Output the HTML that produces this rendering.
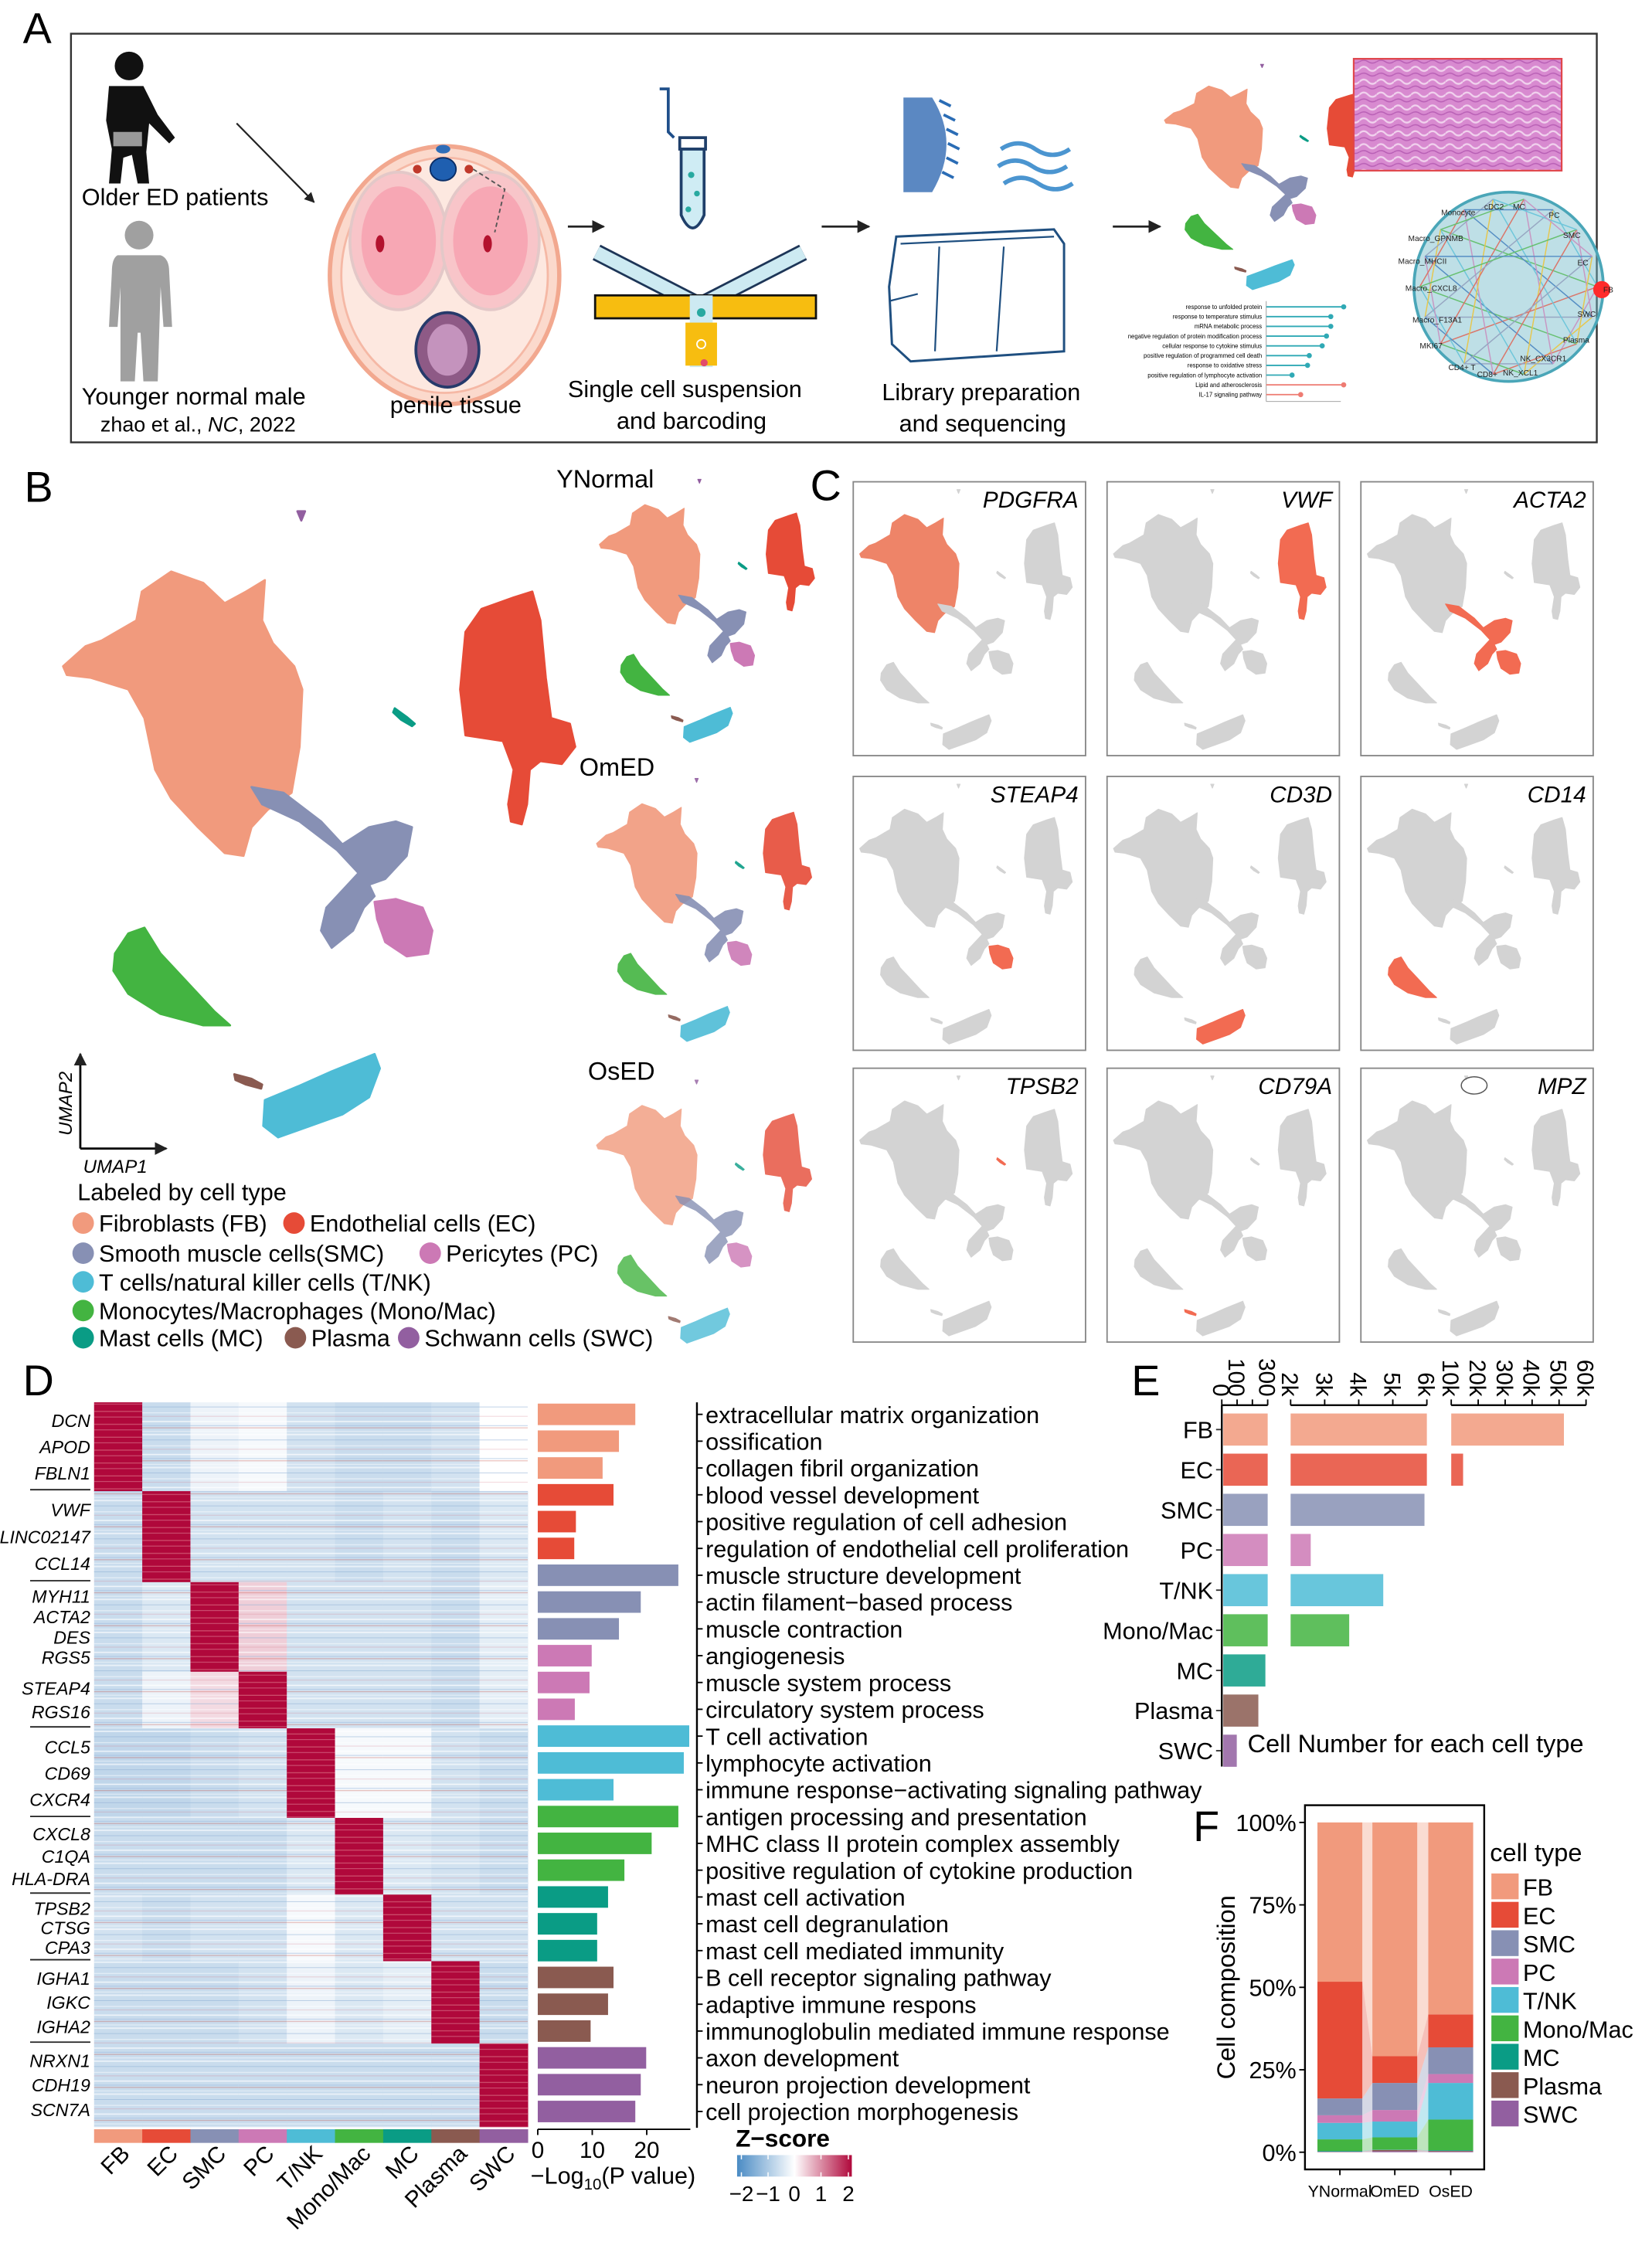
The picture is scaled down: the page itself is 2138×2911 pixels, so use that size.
<!DOCTYPE html>
<html><head><meta charset="utf-8">
<style>
html,body{margin:0;padding:0;background:#fff;}
svg{display:block;font-family:"Liberation Sans",Arial,sans-serif;}
</style></head>
<body>
<svg id="fig" xmlns="http://www.w3.org/2000/svg" width="2138" height="2911" viewBox="0 0 1152 1568.5" preserveAspectRatio="none">
<defs>
  <pattern id="stripes" width="37" height="23" patternUnits="userSpaceOnUse">
    <rect x="0" y="2" width="37" height="0.8" fill="#ffffff" opacity="0.75"/>
    <rect x="0" y="5" width="37" height="0.5" fill="#9dbbe0" opacity="0.7"/>
    <rect x="0" y="6.5" width="37" height="0.6" fill="#c0392b" opacity="0.35"/>
    <rect x="0" y="9" width="37" height="0.5" fill="#ffffff" opacity="0.6"/>
    <rect x="0" y="11" width="37" height="1" fill="#ffffff" opacity="0.6"/>
    <rect x="0" y="15" width="37" height="0.5" fill="#8fb0d6" opacity="0.6"/>
    <rect x="0" y="19" width="37" height="0.7" fill="#ffffff" opacity="0.5"/>
    <rect x="0" y="21.5" width="37" height="0.5" fill="#d46a7a" opacity="0.3"/>
  </pattern>
  <pattern id="redstripes" width="37" height="9" patternUnits="userSpaceOnUse">
    <rect x="0" y="3" width="37" height="0.7" fill="#e07a8a" opacity="0.6"/>
    <rect x="0" y="7" width="37" height="0.5" fill="#f3b3bd" opacity="0.5"/>
  </pattern>
  <pattern id="he" width="12" height="9" patternUnits="userSpaceOnUse">
    <rect width="12" height="9" fill="#d88ad0"/>
    <path d="M0 3 Q3 0 6 3 T12 3" stroke="#f1d2ee" stroke-width="1.2" fill="none"/>
    <path d="M0 7 Q3 5 6 7 T12 7" stroke="#b85fb5" stroke-width="0.8" fill="none"/>
  </pattern>
  <linearGradient id="zgrad" x1="0" x2="1" y1="0" y2="0">
    <stop offset="0" stop-color="#4a8bc4"/>
    <stop offset="0.5" stop-color="#ffffff"/>
    <stop offset="1" stop-color="#b0083b"/>
  </linearGradient>
  <marker id="arr" viewBox="0 0 10 10" refX="9" refY="5" markerWidth="6" markerHeight="6" orient="auto"><path d="M0 0 L10 5 L0 10 z" fill="#222"/></marker>
</defs>

<!-- ================= PANEL A ================= -->
<g id="panelA">
  <text x="16" y="30" font-size="30">A</text>
  <rect x="49.5" y="23.5" width="1064" height="285" fill="none" stroke="#333" stroke-width="1.3"/>
  <g fill="#111">
    <circle cx="90" cy="46" r="10"/>
    <path d="M76 60 L100 60 L110 80 L122 96 L118 100 L104 86 L102 106 L104 128 L96 128 L92 108 L86 110 L84 128 L76 128 L78 104 L74 84 Z"/>
    <rect x="79" y="92" width="20" height="10" fill="#999"/>
  </g>
  <text x="57" y="143" font-size="16.5">Older ED patients</text>
  <g fill="#a0a0a0">
    <circle cx="97" cy="164" r="10"/>
    <path d="M82 178 L112 178 Q118 180 118 190 L120 228 L114 228 L112 200 L110 266 L100 266 L98 232 L96 232 L94 266 L84 266 L84 200 L82 228 L76 228 L78 190 Q78 180 82 178 Z"/>
  </g>
  <text x="57" y="282" font-size="16.5">Younger normal male</text>
  <text x="70" y="301" font-size="14.5">zhao et al., <tspan font-style="italic">NC</tspan>, 2022</text>
  <line x1="165" y1="86" x2="219" y2="141" stroke="#222" stroke-width="1.2" marker-end="url(#arr)"/>
  <g>
    <ellipse cx="310" cy="192" rx="80" ry="90" fill="#fbd9cc" stroke="#f2a88f" stroke-width="3"/>
    <ellipse cx="310" cy="192" rx="72" ry="82" fill="#fde8e0" stroke="#f5b8a5" stroke-width="1.5"/>
    <ellipse cx="278" cy="168" rx="34" ry="48" fill="#f8c5c9" stroke="#e3c8c8" stroke-width="2"/>
    <ellipse cx="342" cy="168" rx="34" ry="48" fill="#f8c5c9" stroke="#e3c8c8" stroke-width="2"/>
    <ellipse cx="278" cy="168" rx="26" ry="38" fill="#f58ea3" opacity="0.55"/>
    <ellipse cx="342" cy="168" rx="26" ry="38" fill="#f58ea3" opacity="0.55"/>
    <ellipse cx="265" cy="170" rx="3" ry="6" fill="#b3122e"/>
    <ellipse cx="340" cy="170" rx="3" ry="6" fill="#b3122e"/>
    <ellipse cx="312" cy="244" rx="22" ry="26" fill="#8e5a86" stroke="#263a6b" stroke-width="2"/>
    <ellipse cx="312" cy="244" rx="14" ry="18" fill="#c493bd"/>
    <ellipse cx="309" cy="118" rx="9" ry="8" fill="#1f5fb0" stroke="#0a2d66"/>
    <ellipse cx="309" cy="104" rx="5" ry="3" fill="#2f6db8"/>
    <circle cx="291" cy="118" r="3" fill="#c0392b"/><circle cx="327" cy="118" r="3" fill="#c0392b"/>
    <path d="M330 118 L352 132 L345 162" stroke="#555" stroke-dasharray="3 2" fill="none"/>
  </g>
  <text x="272" y="288" font-size="16.5">penile tissue</text>
  <line x1="396" y1="158" x2="421" y2="158" stroke="#222" stroke-width="1.5" marker-end="url(#arr)"/>
  <g>
    <path d="M460 62 L466 62 L466 92 L470 96" stroke="#1f4f8a" stroke-width="2" fill="none"/>
    <rect x="474" y="96" width="18" height="8" fill="#fff" stroke="#1f3f6a" stroke-width="2"/>
    <path d="M475 104 L475 150 Q483 168 491 150 L491 104 Z" fill="#cfecf4" stroke="#1f3f6a" stroke-width="2"/>
    <circle cx="482" cy="122" r="2.2" fill="#28a9a0"/><circle cx="486" cy="135" r="2" fill="#28a9a0"/><circle cx="480" cy="146" r="2" fill="#28a9a0"/>
    <path d="M416 176 L488 213 L560 176" stroke="#1d3557" stroke-width="12" fill="none"/>
    <path d="M416 176 L488 213 L560 176" stroke="#cdeaf2" stroke-width="9" fill="none"/>
    <rect x="415" y="206" width="154" height="16" fill="#f7bd10" stroke="#111" stroke-width="1.5"/>
    <rect x="481" y="206" width="16" height="50" fill="#cdeaf2"/>
    <rect x="478" y="225" width="22" height="30" fill="#f7bd10"/>
    <circle cx="489" cy="218" r="3" fill="#28a9a0"/><circle cx="489" cy="240" r="3" fill="#f7bd10" stroke="#fff"/><circle cx="491" cy="253" r="2.5" fill="#e24a6a"/>
  </g>
  <text x="396" y="277" font-size="16.5">Single cell suspension</text>
  <text x="430" y="299" font-size="16.5">and barcoding</text>
  <line x1="573" y1="158" x2="606" y2="158" stroke="#222" stroke-width="1.5" marker-end="url(#arr)"/>
  <g>
    <path d="M630 68 L650 68 Q670 100 650 134 L630 134 Z" fill="#5b88c2"/>
    <path d="M655 70 l8 4 M658 80 l8 4 M660 90 l8 4 M661 100 l8 4 M660 110 l8 4 M657 120 l8 4" stroke="#2a6cb5" stroke-width="2"/>
    <path d="M698 104 q12 -8 24 0 t24 0 M696 116 q12 -8 24 0 t24 0 M700 128 q12 -8 24 0 t24 0" stroke="#4b95d0" stroke-width="3" fill="none"/>
    <path d="M625 165 L735 160 L742 170 L742 245 L635 252 L622 240 L620 200 Z" fill="#fff" stroke="#1f4f80" stroke-width="1.6"/>
    <path d="M628 170 L735 165 M655 172 L652 245 M700 172 L695 245 M620 210 L640 205" stroke="#1f4f80" stroke-width="1.2" fill="none"/>
  </g>
  <text x="615" y="279" font-size="16.5">Library preparation</text>
  <text x="627" y="301" font-size="16.5">and sequencing</text>
  <line x1="776" y1="158" x2="809" y2="158" stroke="#222" stroke-width="1.5" marker-end="url(#arr)"/>
  <g id="miniUmapA"></g>
  <rect x="944" y="41" width="145" height="78" fill="url(#he)" stroke="#e0474c" stroke-width="1.2"/>
  <g font-size="4.2">
    <line x1="883" y1="210" x2="883" y2="280" stroke="#999" stroke-width="0.5"/>
    <line x1="883" y1="280" x2="935" y2="280" stroke="#999" stroke-width="0.5"/>
    <g id="lolli"></g>
  </g>
  <g>
    <circle cx="1052" cy="200" r="66" fill="#6fb7c8" opacity="0.45"/>
    <circle cx="1052" cy="200" r="66" fill="none" stroke="#4aa6b8" stroke-width="2"/>
    <g id="netlines" stroke-width="0.8" opacity="0.7"></g>
    <circle cx="1117" cy="202" r="6" fill="#ff2b2b"/>
    <g font-size="5.5" fill="#222">
      <text x="1005" y="150">Monocyte</text><text x="1035" y="146">cDC2</text><text x="1055" y="146">MC</text><text x="1080" y="152">PC</text>
      <text x="982" y="168">Macro_GPNMB</text><text x="1090" y="166">SMC</text><text x="975" y="184">Macro_MHCII</text><text x="1100" y="185">EC</text>
      <text x="980" y="203">Macro_CXCL8</text><text x="1118" y="204">FB</text><text x="985" y="225">Macro_F13A1</text><text x="1100" y="221">SWC</text>
      <text x="990" y="243">MKI67</text><text x="1090" y="239">Plasma</text><text x="1010" y="258">CD4+ T</text><text x="1060" y="252">NK_CX3CR1</text><text x="1030" y="263">CD8+</text><text x="1048" y="262">NK_XCL1</text>
    </g>
  </g>
</g>

<!-- ================= PANEL B ================= -->
<g id="panelB">
  <text x="17" y="350" font-size="30">B</text>
  <g id="bigUmap"></g>
  <text x="388" y="340" font-size="17.5">YNormal</text>
  <g id="umapY"></g>
  <text x="404" y="541" font-size="17.5">OmED</text>
  <g id="umapOm"></g>
  <text x="410" y="753" font-size="17.5">OsED</text>
  <g id="umapOs"></g>
  <g>
    <line x1="56" y1="801" x2="56" y2="735" stroke="#000" stroke-width="1.5" marker-end="url(#arr)"/>
    <line x1="56" y1="801" x2="116" y2="801" stroke="#000" stroke-width="1.5" marker-end="url(#arr)"/>
    <text transform="translate(50,792) rotate(-90)" font-size="13" font-style="italic">UMAP2</text>
    <text x="58" y="818" font-size="13" font-style="italic">UMAP1</text>
  </g>
  <g id="legendB" font-size="16.5">
    <text x="54" y="837">Labeled by cell type</text>
  </g>
</g>

<!-- ================= PANEL C ================= -->
<g id="panelC">
  <text x="565" y="349" font-size="30">C</text>
  <g id="featPlots"></g>
</g>

<!-- ================= PANEL D ================= -->
<g id="panelD">
  <text x="16" y="973" font-size="30">D</text>
  <g id="heat"></g>
  <g id="geneLabels" font-size="12.5" font-style="italic" text-anchor="end"></g>
  <g id="colLabels" font-size="16"></g>
  <g id="goBars"></g>
  <g>
    <text x="513" y="1497" font-size="17" font-weight="bold">Z−score</text>
    <rect x="514" y="1503" width="80" height="15" fill="url(#zgrad)"/>
    <g stroke="#fff" stroke-width="0.8">
      <line x1="517" y1="1503" x2="517" y2="1506"/><line x1="517" y1="1515" x2="517" y2="1518"/>
      <line x1="535.6" y1="1503" x2="535.6" y2="1506"/><line x1="535.6" y1="1515" x2="535.6" y2="1518"/>
      <line x1="554" y1="1503" x2="554" y2="1506"/><line x1="554" y1="1515" x2="554" y2="1518"/>
      <line x1="572.5" y1="1503" x2="572.5" y2="1506"/><line x1="572.5" y1="1515" x2="572.5" y2="1518"/>
      <line x1="591.6" y1="1503" x2="591.6" y2="1506"/><line x1="591.6" y1="1515" x2="591.6" y2="1518"/>
    </g>
    <g font-size="15" text-anchor="middle">
      <text x="517" y="1535">−2</text><text x="535.6" y="1535">−1</text><text x="554" y="1535">0</text><text x="572.5" y="1535">1</text><text x="591.6" y="1535">2</text>
    </g>
  </g>
</g>

<!-- ================= PANEL E ================= -->
<g id="panelE">
  <text x="789" y="973" font-size="30">E</text>
  <g id="barE"></g>
  <text x="870" y="1222" font-size="17.5">Cell Number for each cell type</text>
</g>

<!-- ================= PANEL F ================= -->
<g id="panelF">
  <text x="832" y="1284" font-size="30">F</text>
  <g id="stackF"></g>
  <text transform="translate(861,1386) rotate(-90)" font-size="17.5" text-anchor="middle">Cell composition</text>
  <g id="legendF"></g>
</g>
</svg>

<script>
const cellTypes = ["FB","EC","SMC","PC","T/NK","Mono/Mac","MC","Plasma","SWC"];
const typeColors = ["#f19a7d","#e64b37","#8790b4","#cc79b5","#4ebcd6","#43b441","#0a9c85","#8a5a50","#925fa0"];

const NS = "http://www.w3.org/2000/svg";
function mk(tag, attrs, parent){ const e=document.createElementNS(NS,tag); for(const k in attrs) e.setAttribute(k,attrs[k]); if(parent) parent.appendChild(e); return e; }

function cv(p){ return p.map(([x,y])=>[(x*0.3731).toFixed(1),(y*0.4006+312.5).toFixed(1)].join(",")).join(" "); }
const shapes = {
  FB:[[118,380],[160,345],[190,335],[255,300],[265,250],[320,215],[380,235],[420,270],[460,250],[495,230],[490,300],[510,340],[550,380],[565,420],[560,520],[545,600],[500,630],[470,660],[455,710],[420,705],[370,660],[320,610],[290,560],[270,470],[240,420],[170,400],[125,395]],
  EC:[[870,320],[900,280],[960,260],[995,250],[1010,300],[1020,400],[1030,470],[1065,480],[1075,520],[1050,550],[1010,545],[990,560],[985,620],[975,655],[955,650],[950,620],[960,560],[940,510],[870,500],[860,420]],
  SMC:[[470,590],[530,600],[600,650],[640,690],[690,660],[740,650],[770,660],[760,710],[720,750],[690,760],[700,780],[680,800],[660,840],[620,870],[600,840],[610,800],[650,760],[670,740],[630,700],[560,650],[490,620]],
  PC:[[700,790],[740,785],[790,800],[808,840],[800,880],[760,885],[720,860],[705,820]],
  Mono:[[215,880],[240,845],[270,835],[300,880],[350,930],[400,980],[430,1005],[380,1005],[300,985],[240,950],[212,910]],
  TNK:[[495,1135],[560,1110],[620,1085],[700,1055],[710,1080],[690,1130],[640,1160],[580,1180],[520,1200],[492,1180]],
  Plasma:[[438,1090],[470,1098],[490,1108],[488,1115],[460,1108],[440,1100]],
  MC:[[738,453],[760,468],[775,480],[770,484],[750,473],[735,460]],
  SWC:[[556,110],[570,110],[563,126]]
};
const shapeKeys = ["FB","EC","SMC","PC","TNK","Mono","MC","Plasma","SWC"];
function drawUmap(g, colorFn, opacity){
  shapeKeys.forEach((k,i)=>{
    const p = mk("polygon",{points:cv(shapes[k]), fill:colorFn(i), opacity: opacity||1, "stroke":colorFn(i), "stroke-width":1.5, "stroke-linejoin":"round"}, g);
    
    
  });
}
drawUmap(document.getElementById("bigUmap"), i=>typeColors[i]);
[["umapY",418,352,1],["umapOm",416,560.6,0.9],["umapOs",416,771,0.8]].forEach(([id,x,y,op])=>{
  const g=document.getElementById(id);
  g.setAttribute("transform",`translate(${x-0.42*44},${y-0.42*398.7}) scale(0.42)`);
  drawUmap(g, i=>typeColors[i], op);
});
(function(){
  const g=document.getElementById("miniUmapA");
  g.setAttribute("transform",`translate(${812-0.41*44},${60-0.36*398.7}) scale(0.41,0.36)`);
  drawUmap(g, i=>typeColors[i]);
})();

const legendNamesB = ["Fibroblasts (FB)","Endothelial cells (EC)","Smooth muscle cells(SMC)","Pericytes (PC)","T cells/natural killer cells (T/NK)","Monocytes/Macrophages (Mono/Mac)","Mast cells (MC)","Plasma","Schwann cells (SWC)"];
const legendPosB = [[58,853],[205,853],[58,874],[300,874],[58,894],[58,914],[58,933],[206,933],[285,933]];
(function(){
  const g=document.getElementById("legendB");
  legendNamesB.forEach((n,i)=>{
    const [cx,cy]=legendPosB[i];
    const c=mk("circle",{cx:cx,cy:cy,r:7.5,fill:typeColors[i]},g);
    
    
    const t=mk("text",{x:cx+11,y:cy+6},g); t.textContent=n;
    
    
  });
})();

const featGenes = ["PDGFRA","VWF","ACTA2","STEAP4","CD3D","CD14","TPSB2","CD79A","MPZ"];
const featTarget = [[0],[1],[2,3],[3],[4],[5],[6],[7],[]];
const boxX=[595,772,949], boxY=[336,541.5,745], boxW=162, boxH=191;
(function(){
  const root=document.getElementById("featPlots");
  featGenes.forEach((gn,i)=>{
    const bx=boxX[i%3], by=boxY[Math.floor(i/3)];
    const g=mk("g",{},root);
    
    
    mk("rect",{x:bx,y:by,width:boxW,height:boxH,fill:"#fff",stroke:"#888","stroke-width":1},g);
    const u=mk("g",{transform:`translate(${bx+4.5-0.415*44},${by+22.9-0.415*398.7}) scale(0.415)`},g);
    drawUmap(u, k=>featTarget[i].includes(k)? (i===0?"#ee8468":"#f26b52") : "#d3d3d3");
    const t=mk("text",{x:bx+boxW-5,y:by+18,"font-size":16,"font-style":"italic","text-anchor":"end"},g);
    t.textContent=gn;
    
    
    if(gn==="MPZ"){ mk("ellipse",{cx:bx+79,cy:by+12,rx:9,ry:6,fill:"none",stroke:"#555","stroke-width":0.8},g); }
  });
})();

const lolliTerms=["response to unfolded protein","response to temperature stimulus","mRNA metabolic process","negative regulation of protein modification process","cellular response to cytokine stimulus","positive regulation of programmed cell death","response to oxidative stress","positive regulation of lymphocyte activation","Lipid and atherosclerosis","IL-17 signaling pathway"];
const lolliVals=[9,7.5,7.5,7,6.5,5,4.8,3,9,4];
(function(){
  const g=document.getElementById("lolli");
  lolliTerms.forEach((t,i)=>{
    const y=214+i*6.8, col=i<8?"#2fa9b5":"#ee7b72";
    mk("line",{x1:883,y1:y,x2:883+lolliVals[i]*6,y2:y,stroke:col,"stroke-width":1},g);
    mk("circle",{cx:883+lolliVals[i]*6,cy:y,r:1.8,fill:col},g);
    const tx=mk("text",{x:880,y:y+1.5,"text-anchor":"end"},g); tx.textContent=t;
  });
  const ng=document.getElementById("netlines");
  const cols=["#e64b37","#4ebcd6","#8790b4","#cc79b5","#43b441","#f7bd10","#2a6cb5"];
  for(let i=0;i<18;i++){ for(let j=i+3;j<18;j+=4){
    const a1=i/18*6.283, a2=j/18*6.283;
    mk("line",{x1:1052+62*Math.cos(a1),y1:200+62*Math.sin(a1),x2:1052+62*Math.cos(a2),y2:200+62*Math.sin(a2),stroke:cols[(i+j)%7]},ng);
  }}
})();

const geneGroupCounts = [124,127,125,79,125,107,93,115,116];
const zMatrix = [
 [2,-0.6,-0.2,-0.1,-0.5,-0.6,-0.6,-0.5,0.0],
 [-0.6,2,-0.5,-0.5,-0.5,-0.6,-0.5,-0.6,-0.4],
 [-0.6,-0.4,2,0.4,-0.5,-0.5,-0.5,-0.6,-0.3],
 [-0.6,-0.2,0.3,2,-0.5,-0.5,-0.5,-0.6,-0.3],
 [-0.7,-0.7,-0.6,-0.5,2,-0.1,-0.1,-0.5,-0.6],
 [-0.6,-0.6,-0.6,-0.6,-0.4,2,-0.4,-0.5,-0.6],
 [-0.5,-0.6,-0.5,-0.5,-0.1,-0.4,2,-0.5,-0.5],
 [-0.6,-0.6,-0.6,-0.5,-0.2,-0.4,-0.3,2,-0.6],
 [-0.6,-0.6,-0.6,-0.6,-0.6,-0.6,-0.6,-0.6,2]
];
const geneNames = [["DCN","APOD","FBLN1"],["VWF","LINC02147","CCL14"],["MYH11","ACTA2","DES","RGS5"],["STEAP4","RGS16"],["CCL5","CD69","CXCR4"],["CXCL8","C1QA","HLA-DRA"],["TPSB2","CTSG","CPA3"],["IGHA1","IGKC","IGHA2"],["NRXN1","CDH19","SCN7A"]];
const goTerms = ["extracellular matrix organization","ossification","collagen fibril organization","blood vessel development","positive regulation of cell adhesion","regulation of endothelial cell proliferation","muscle structure development","actin filament−based process","muscle contraction","angiogenesis","muscle system process","circulatory system process","T cell activation","lymphocyte activation","immune response−activating signaling pathway","antigen processing and presentation","MHC class II protein complex assembly","positive regulation of cytokine production","mast cell activation","mast cell degranulation","mast cell mediated immunity","B cell receptor signaling pathway","adaptive immune respons","immunoglobulin mediated immune response","axon development","neuron projection development","cell projection morphogenesis"];
const goValues = [17.9,14.9,11.9,13.9,7.0,6.7,25.8,18.9,14.9,9.9,9.5,6.8,27.8,26.8,13.9,25.8,20.9,15.9,12.9,10.9,10.9,13.9,12.9,9.7,19.9,18.9,17.9];
const goTicks = [0,10,20];

function zColor(z){
  z=Math.max(-2,Math.min(2,z));
  const lerp=(a,b,t)=>Math.round(a+(b-a)*t);
  let c;
  if(z<0){ const t=-z/2; c=[lerp(255,74,t),lerp(255,139,t),lerp(255,196,t)]; }
  else { const t=z/2; c=[lerp(255,176,t),lerp(255,8,t),lerp(255,59,t)]; }
  return `rgb(${c[0]},${c[1]},${c[2]})`;
}
(function(){
  const hx0=65.6, hx1=368, hy0=978, hy1=1483.2;
  const colW=(hx1-hx0)/9;
  const total=geneGroupCounts.reduce((a,b)=>a+b,0);
  const yScale=c=>hy0+(hy1-hy0)*c/total;
  const g=document.getElementById("heat");
  let cum=0;
  const bounds=[];
  geneGroupCounts.forEach((n,gi)=>{
    const y0=yScale(cum), y1=yScale(cum+n);
    bounds.push([y0,y1]);
    for(let c=0;c<9;c++){
      const z=zMatrix[gi][c];
      const r=mk("rect",{x:hx0+c*colW,y:y0,width:colW+0.3,height:y1-y0+0.3,fill:zColor(z)},g);
      
      
      mk("rect",{x:hx0+c*colW,y:y0,width:colW,height:y1-y0,fill: z>1.5?"url(#redstripes)":"url(#stripes)"},g);
    }
    cum+=n;
  });
  cellTypes.forEach((t,c)=>{
    const r=mk("rect",{x:hx0+c*colW,y:1485,width:colW+0.3,height:9.5,fill:typeColors[c]},g);
    
    
    const tx=mk("text",{transform:`translate(${hx0+c*colW+colW/2+9},${1503}) rotate(-45)`,"text-anchor":"end"},document.getElementById("colLabels"));
    tx.textContent=t;
    
    
  });
  const gl=document.getElementById("geneLabels");
  const sepGroups=[1,2,4,5,6,7,8];
  bounds.forEach(([y0,y1],gi)=>{
    const names=geneNames[gi];
    const step=Math.min(19,(y1-y0)/(names.length+0.4));
    const mid=(y0+y1)/2;
    names.forEach((n,k)=>{
      const t=mk("text",{x:63,y:mid+(k-(names.length-1)/2)*step+4.5},gl);
      t.textContent=n;
      
      
    });
    if(sepGroups.includes(gi)) mk("line",{x1:21,y1:y0-1,x2:63,y2:y0-1,stroke:"#222","stroke-width":1},gl);
  });

  const bg=document.getElementById("goBars");
  const bx0=375, perUnit=3.8;
  const xS=v=>bx0+v*perUnit;
  const rowY=i=>986.4+i*18.7;
  const groupOf=i=>Math.floor(i/3);
  goValues.forEach((v,i)=>{
    const r=mk("rect",{x:xS(0),y:rowY(i)-7.5,width:xS(v)-xS(0),height:15,fill:typeColors[groupOf(i)]},bg);
    
    
    mk("line",{x1:486,y1:rowY(i),x2:490,y2:rowY(i),stroke:"#000","stroke-width":1},bg);
    const t=mk("text",{x:492,y:rowY(i)+6,"font-size":16.5},bg);
    t.textContent=goTerms[i];
    
    
  });
  mk("line",{x1:486,y1:978,x2:486,y2:1484,stroke:"#000","stroke-width":1.3},bg);
  mk("line",{x1:xS(0),y1:1485,x2:xS(28),y2:1485,stroke:"#000","stroke-width":1},bg);
  goTicks.forEach(v=>{
    mk("line",{x1:xS(v),y1:1485,x2:xS(v),y2:1489,stroke:"#000","stroke-width":1},bg);
    const t=mk("text",{x:xS(v),y:1505,"font-size":16,"text-anchor":"middle"},bg); t.textContent=v;
    
    
  });
  const at=mk("text",{x:370,y:1523,"font-size":16.5},bg);
  at.innerHTML='−Log<tspan font-size="11" dy="4">10</tspan><tspan dy="-4">(P value)</tspan>';
  
  
})();

const eCounts = [51800,14400,5930,2590,4720,3720,285,239,98];
const eTicks1 = [0,100,200,300], eLabels1=["0","100","","300"];
const eTicks2 = [2000,3000,4000,5000,6000], eLabels2=["2k","3k","4k","5k","6k"];
const eTicks3 = [10000,20000,30000,40000,50000,60000], eLabels3=["10k","20k","30k","40k","50k","60k"];
(function(){
  const g=document.getElementById("barE");
  const ax=852, axisY=980;
  const s1=v=>ax+(Math.min(v,300))/300*32;
  const s2=v=>900+(Math.min(v,6000)-2000)/4000*95;
  const s3=v=>1012+(Math.min(v,60000)-10000)/50000*94;
  const rowY=i=>997+i*28;
  eCounts.forEach((v,i)=>{
    const y=rowY(i)-11.2, col=typeColors[i], op=0.85;
    const r=mk("rect",{x:ax+1,y:y,width:s1(v)-ax-1,height:22.4,fill:col,opacity:op},g);
    
    
    if(v>2000){ mk("rect",{x:900,y:y,width:s2(v)-900,height:22.4,fill:col,opacity:op},g); }
    if(v>10000){ mk("rect",{x:1012,y:y,width:s3(v)-1012,height:22.4,fill:col,opacity:op},g); }
    mk("line",{x1:ax-4,y1:rowY(i),x2:ax,y2:rowY(i),stroke:"#333","stroke-width":1},g);
    const t=mk("text",{x:ax-6,y:rowY(i)+6,"font-size":16.5,"text-anchor":"end"},g);
    t.textContent=cellTypes[i];
    
    
  });
  mk("line",{x1:ax,y1:axisY,x2:ax,y2:1232,stroke:"#000","stroke-width":1.3},g);
  const seg=(ticks,labels,sc)=>{
    mk("line",{x1:sc(ticks[0]),y1:axisY,x2:sc(ticks[ticks.length-1]),y2:axisY,stroke:"#000","stroke-width":1.3},g);
    ticks.forEach((v,k)=>{
      mk("line",{x1:sc(v),y1:axisY,x2:sc(v),y2:axisY-4,stroke:"#000","stroke-width":1},g);
      if(labels[k]){
        const t=mk("text",{transform:`translate(${sc(v)-6},${axisY-6}) rotate(90)`,"font-size":16,"text-anchor":"end"},g);
        t.textContent=labels[k];
        
        
      }
    });
  };
  seg(eTicks1,eLabels1,s1); seg(eTicks2,eLabels2,s2); seg(eTicks3,eLabels3,s3);
})();

const groupsF = ["YNormal","OmED","OsED"];
const fbPct     = [48.3,70.9,58.2];
const ecPct     = [35.4,8.1,10.0];
const smcPct    = [5.1,8.2,8.1];
const pcPct     = [2.3,3.5,2.7];
const tnkPct    = [5.0,4.8,11.1];
const monoPct   = [3.5,3.7,9.3];
const mcPct     = [0.2,0.1,0.2];
const plasmaPct = [0.1,0.4,0.2];
const swcPct    = [0.1,0.3,0.2];
const yTicksF = [0,25,50,75,100];
(function(){
  const g=document.getElementById("stackF");
  mk("rect",{x:910,y:1259,width:125,height:254,fill:"#fff",stroke:"#000","stroke-width":1.3},g);
  const yS=p=>1501-p/100*230;
  const barX=[918.7,957,996], bw=31.3;
  const layers=[swcPct,plasmaPct,mcPct,monoPct,tnkPct,pcPct,smcPct,ecPct,fbPct];
  const layerColorIdx=[8,7,6,5,4,3,2,1,0];
  const tops=groupsF.map(()=>0);
  const bounds=[];
  layers.forEach((arr,li)=>{
    const b=groupsF.map((_,gi)=>{ const lo=tops[gi]; tops[gi]+=arr[gi]; return [lo,tops[gi]]; });
    bounds.push(b);
  });
  bounds.forEach((b,li)=>{
    for(let gi=0;gi<2;gi++){
      const x0=barX[gi]+bw, x1=barX[gi+1];
      mk("polygon",{points:`${x0},${yS(b[gi][0])} ${x0},${yS(b[gi][1])} ${x1},${yS(b[gi+1][1])} ${x1},${yS(b[gi+1][0])}`,fill:typeColors[layerColorIdx[li]],opacity:0.35},g);
    }
  });
  bounds.forEach((b,li)=>{
    groupsF.forEach((gn,gi)=>{
      const r=mk("rect",{x:barX[gi],y:yS(b[gi][1]),width:bw,height:Math.max(0,yS(b[gi][0])-yS(b[gi][1])),fill:typeColors[layerColorIdx[li]]},g);
      
      
    });
  });
  yTicksF.forEach(v=>{
    mk("line",{x1:906,y1:yS(v),x2:910,y2:yS(v),stroke:"#000","stroke-width":1},g);
    const t=mk("text",{x:904,y:yS(v)+6,"font-size":16.5,"text-anchor":"end"},g);
    t.textContent=v+"%";
    
    
  });
  groupsF.forEach((gn,gi)=>{
    const cx=barX[gi]+bw/2;
    mk("line",{x1:cx,y1:1513,x2:cx,y2:1517,stroke:"#000","stroke-width":1},g);
    const t=mk("text",{x:cx,y:1532,"font-size":11.5,"text-anchor":"middle"},g);
    t.textContent=gn;
    
    
  });
  const lg=document.getElementById("legendF");
  const tt=mk("text",{x:1039,y:1298,"font-size":17.5},lg); tt.textContent="cell type";
  
  
  cellTypes.forEach((t,i)=>{
    const y=1306.6+i*19.8;
    const r=mk("rect",{x:1040,y:y,width:19,height:18,fill:typeColors[i]},lg);
    
    
    const tx=mk("text",{x:1062,y:y+15.5,"font-size":16.5},lg); tx.textContent=t;
    
    
  });
})();
</script>
</body></html>
